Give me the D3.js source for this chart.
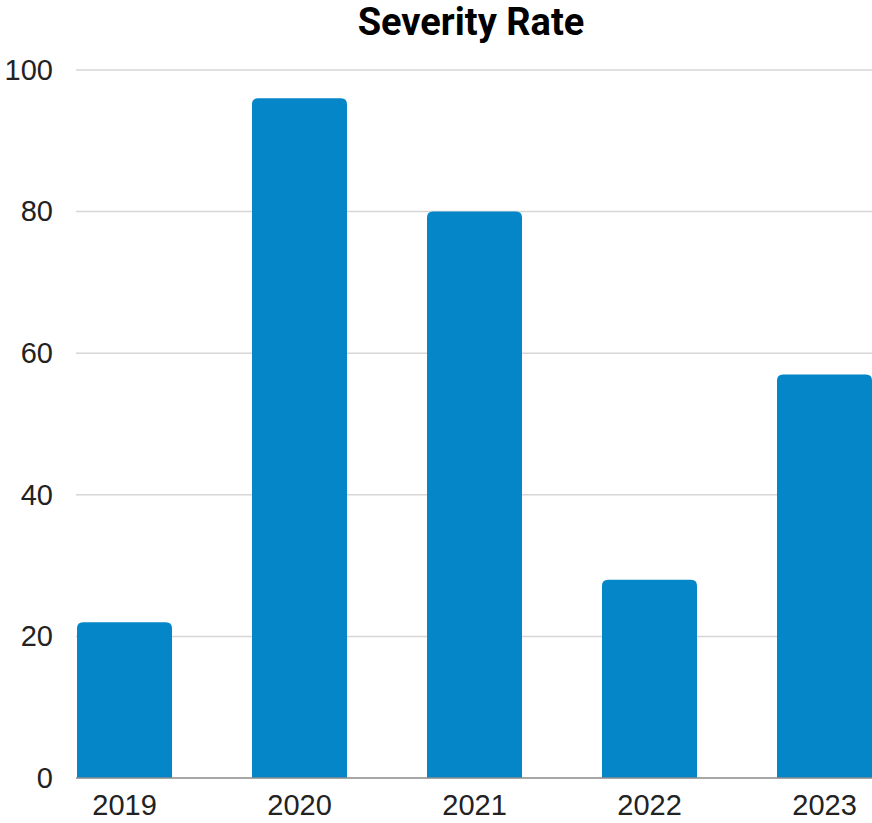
<!DOCTYPE html>
<html lang="en">
	<head>
		<meta charset="utf-8">
		<title>Severity Rate</title>
		<script type="text/javascript" src="https://cdn.jsdelivr.net/npm/d3@7"></script>
		<style>
			body { margin: 0; background: #fff; }
			.title {
				font-family: Roboto, sans-serif;
				font-weight: bold;
				font-size: 38px;
				fill: #000;
			}
			.axis text {
				font-family: "Liberation Sans", Arial, sans-serif;
				font-size: 29px;
				fill: #222;
			}
			.grid line { stroke: #d6d6d6; stroke-width: 1.5; }
		</style>
	</head>
	<body>
		<script type="text/javascript">
			var years = ["2019", "2020", "2021", "2022", "2023"];
			var rates = [22, 96, 80, 28, 57];
			var yTicks = [0, 20, 40, 60, 80, 100];

			var w = 872;
			var h = 823;

			var svg = d3.select("body")
						.append("svg")
						.attr("width", w)
						.attr("height", h);

			var xScale = d3.scaleBand()
						   .domain(years)
						   .range([37, 912])
						   .paddingInner(80 / 175)
						   .paddingOuter(40 / 175);

			var yScale = d3.scaleLinear()
						   .domain([0, 100])
						   .range([778, 70]);

			// gridlines
			svg.append("g")
			   .attr("class", "grid")
			   .selectAll("line")
			   .data(yTicks.slice(1))
			   .enter()
			   .append("line")
			   .attr("x1", 76)
			   .attr("x2", w)
			   .attr("y1", function(d) { return yScale(d); })
			   .attr("y2", function(d) { return yScale(d); });

			// bars with rounded tops
			var r = 6;
			svg.selectAll("path.bar")
			   .data(rates)
			   .enter()
			   .append("path")
			   .attr("class", "bar")
			   .attr("fill", "#0586c8")
			   .attr("d", function(d, i) {
					var x0 = xScale(years[i]);
					var x1 = x0 + xScale.bandwidth();
					var y0 = yScale(0);
					var y1 = yScale(d);
					return "M" + x0 + "," + y0 +
						   "V" + (y1 + r) +
						   "Q" + x0 + "," + y1 + " " + (x0 + r) + "," + y1 +
						   "H" + (x1 - r) +
						   "Q" + x1 + "," + y1 + " " + x1 + "," + (y1 + r) +
						   "V" + y0 + "Z";
				});

			// baseline
			svg.append("line")
			   .attr("x1", 76)
			   .attr("x2", w)
			   .attr("y1", yScale(0))
			   .attr("y2", yScale(0))
			   .attr("stroke", "#8a8a8a")
			   .attr("stroke-width", 1.5);

			// y axis labels
			var yAxis = d3.axisLeft(yScale)
						  .tickValues(yTicks)
						  .tickSize(0)
						  .tickPadding(0);
			svg.append("g")
			   .attr("class", "axis")
			   .attr("transform", "translate(53,0)")
			   .call(yAxis)
			   .call(function(g) { g.select(".domain").remove(); });

			// x axis labels
			var xAxis = d3.axisBottom(xScale)
						  .tickSize(0)
						  .tickPadding(16);
			svg.append("g")
			   .attr("class", "axis")
			   .attr("transform", "translate(0," + yScale(0) + ")")
			   .call(xAxis)
			   .call(function(g) { g.select(".domain").remove(); });

			// title
			svg.append("text")
			   .attr("class", "title")
			   .attr("x", 471)
			   .attr("y", 35)
			   .attr("text-anchor", "middle")
			   .text("Severity Rate");
		</script>
	</body>
</html>
